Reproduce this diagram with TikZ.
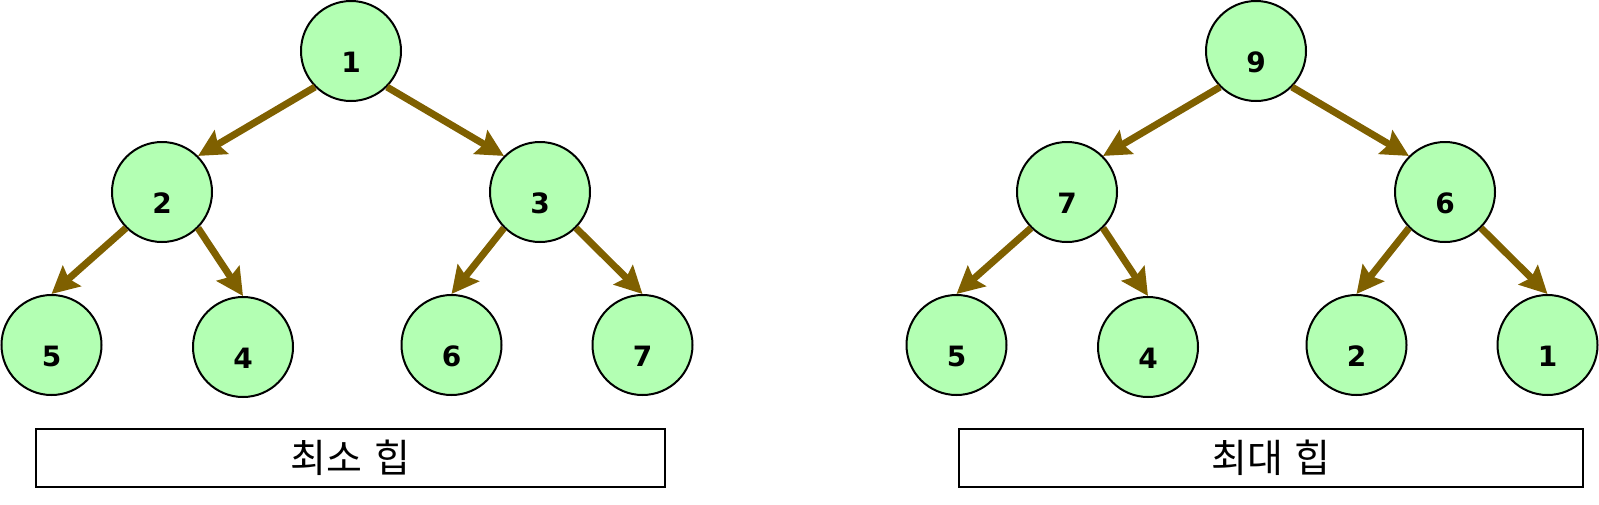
\documentclass[tikz,border=0pt]{standalone}
\usepackage{fontspec}
\setmainfont{DejaVu Sans}
\newfontfamily\krfont{Noto Sans CJK KR}
\usepackage{tikz}
\usetikzlibrary{arrows.meta,shapes,positioning}
\usepackage{xcolor}
\definecolor{heapgreen}{HTML}{B3FFB3}
\definecolor{heapbrown}{HTML}{7F6000}
\tikzset{
heap_n/.style = {circle, draw=black, line width=2pt, fill=heapgreen, minimum size=100pt, inner sep=0pt,
label={[font=\bfseries\fontsize{28}{28}\selectfont, yshift=-11pt]center:#1}},% heap node, number a bit low
heap_e/.style = {draw=heapbrown, line width=7pt, -{Stealth[length=27pt,width=27pt,inset=4pt]}},% parent to child
heap_box/.style = {rectangle, draw=black, line width=2.3pt, minimum height=58pt, font=\krfont\fontsize{39}{39}\selectfont}% caption box
}
\begin{document}
\begin{tikzpicture}[x=1pt,y=-1pt]
  \useasboundingbox (0,0) rectangle (1599,504);
  % min heap
  \node [heap_n=1] (min1) at (351,51) {};
  \node [heap_n=2] (min2) at (162,192) {};
  \node [heap_n=3] (min3) at (540,192) {};
  \node [heap_n=5] (min5) at (51.5,345) {};
  \node [heap_n=4] (min4) at (243,347) {};
  \node [heap_n=6] (min6) at (451.5,345) {};
  \node [heap_n=7] (min7) at (642.5,345) {};
  \draw [heap_e] (min1.-135) -- (min2.45);
  \draw [heap_e] (min1.-45) -- (min3.135);
  \draw [heap_e] (min2.-135) -- (min5.north);
  \draw [heap_e] (min2.-45) -- (min4.north);
  \draw [heap_e] (min3.-135) -- (min6.north);
  \draw [heap_e] (min3.-45) -- (min7.north);
  \node [heap_box, minimum width=629pt] (minname) at (350.5,458) {최소\hspace{0.3em}힙};
  % max heap
  \node [heap_n=9] (max9) at (1256,51) {};
  \node [heap_n=7] (max7) at (1067,192) {};
  \node [heap_n=6] (max6) at (1445,192) {};
  \node [heap_n=5] (max5) at (956.5,345) {};
  \node [heap_n=4] (max4) at (1148,347) {};
  \node [heap_n=2] (max2) at (1356.5,345) {};
  \node [heap_n=1] (max1) at (1547.5,345) {};
  \draw [heap_e] (max9.-135) -- (max7.45);
  \draw [heap_e] (max9.-45) -- (max6.135);
  \draw [heap_e] (max7.-135) -- (max5.north);
  \draw [heap_e] (max7.-45) -- (max4.north);
  \draw [heap_e] (max6.-135) -- (max2.north);
  \draw [heap_e] (max6.-45) -- (max1.north);
  \node [heap_box, minimum width=624pt] (maxname) at (1271,458) {최대\hspace{0.3em}힙};
\end{tikzpicture}
\end{document}
